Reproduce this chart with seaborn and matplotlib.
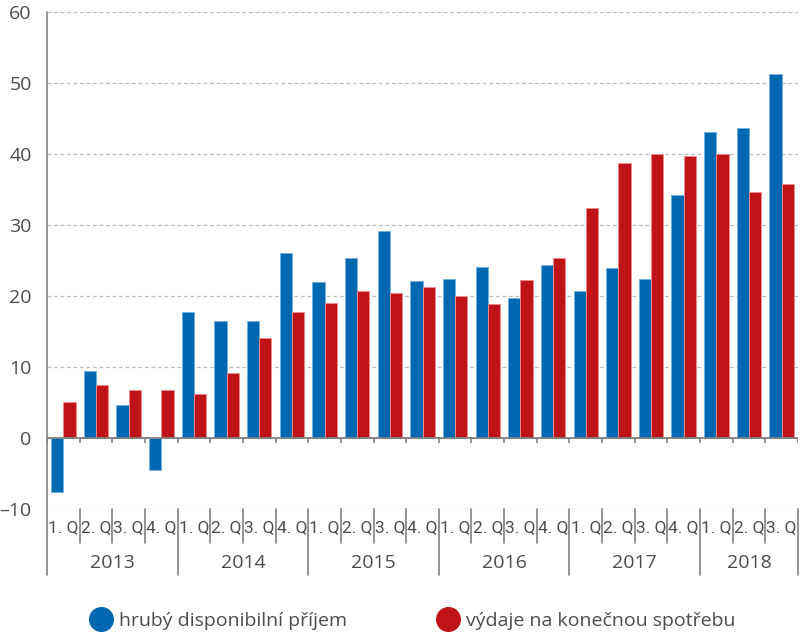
import matplotlib
matplotlib.use("Agg")
import matplotlib.pyplot as plt
from matplotlib.lines import Line2D
import seaborn as sns
import pandas as pd

# --- data ---
roky = ["2013", "2014", "2015", "2016", "2017", "2018"]
ctvrtleti = ["1. Q", "2. Q", "3. Q", "4. Q"] * 5 + ["1. Q", "2. Q", "3. Q"]
prijem = [-7.7, 9.4, 4.6, -4.6, 17.7, 16.4, 16.4, 26.0, 21.9, 25.3, 29.2, 22.1,
          22.4, 24.1, 19.7, 24.3, 20.7, 23.9, 22.4, 34.2, 43.1, 43.6, 51.3]
vydaje = [5.0, 7.4, 6.7, 6.7, 6.2, 9.1, 14.1, 17.7, 19.0, 20.7, 20.4, 21.2,
          20.0, 18.8, 22.3, 25.3, 32.4, 38.7, 40.0, 39.7, 40.0, 34.6, 35.8]
y_ticks = [-10, 0, 10, 20, 30, 40, 50, 60]
y_popisky = ["–10", "0", "10", "20", "30", "40", "50", "60"]
serie = ["hrubý disponibilní příjem", "výdaje na konečnou spotřebu"]
barvy = ["#0067b1", "#be1317"]
okraje = ["#6fb4e4", "#f08a8c"]

n = len(prijem)
df = pd.DataFrame({
    "obdobi": list(range(n)) * 2,
    "hodnota": prijem + vydaje,
    "serie": [serie[0]] * n + [serie[1]] * n,
})

sns.set_style("white")
plt.rcParams["font.family"] = ["Open Sans", "DejaVu Sans"]
seda = "#4d4d4d"
linka = "#808080"

fig = plt.figure(figsize=(8, 6.33), dpi=100)
ax = fig.add_axes([47 / 800, 1 - 508.7 / 633, 751 / 800, (508.7 - 12) / 633])

sns.barplot(data=df, x="obdobi", y="hodnota", hue="serie", hue_order=serie,
            palette=barvy, width=0.75, saturation=1, ax=ax, legend=False)

for cont, ok in zip(ax.containers, okraje):
    for b in cont:
        b.set_edgecolor(ok)
        b.set_linewidth(0.7)

ax.set_xlim(-0.5, n - 0.5)
ax.set_ylim(-10, 60)
ax.set_yticks(y_ticks)
ax.set_yticklabels(y_popisky)
ax.yaxis.grid(True, linestyle=(0, (3, 2.2)), color="#bdbdbd", linewidth=0.9)
ax.set_axisbelow(True)
for s in ax.spines.values():
    s.set_visible(False)
ax.tick_params(axis="y", length=0, pad=11, labelsize=14, labelcolor=seda)
ax.set_xticks([])
ax.set_xlabel("")
ax.set_ylabel("")

# nulova osa a male znacky
ax.axhline(0, color=linka, linewidth=1.3, zorder=3)
hranice = [i - 0.5 for i in range(n + 1)]
ax.vlines(hranice, -0.75, 0, color=linka, linewidth=1.2, zorder=3)

# leva osa prodlouzena pod graf
tr = ax.get_xaxis_transform()
ax.plot([-0.5, -0.5], [1, -0.1335], transform=tr, color=linka, lw=1.2, clip_on=False)

# popisky ctvrtleti a roku pod grafem
for i, q in enumerate(ctvrtleti):
    ax.text(i, -0.038, q, transform=tr, ha="center", va="center",
            fontsize=12.5, color=seda, family=["Roboto", "DejaVu Sans"])
for i in range(1, n):
    konec = -0.1335 if i % 4 == 0 else -0.069
    ax.plot([i - 0.5, i - 0.5], [0, konec], transform=tr, color=linka,
            lw=1.2, clip_on=False)
ax.plot([n - 0.5, n - 0.5], [0, -0.1335], transform=tr, color=linka,
        lw=1.2, clip_on=False)
for j, rok in enumerate(roky):
    zac = j * 4
    kon = min(zac + 3, n - 1)
    ax.text((zac + kon) / 2, -0.109, rok, transform=tr, ha="center",
            va="center", fontsize=14, color=seda)

# legenda
znacky = [Line2D([], [], marker="o", linestyle="", markersize=17,
                 markerfacecolor=c, markeredgecolor=c) for c in barvy]
fig.legend(znacky, serie, loc="center left", bbox_to_anchor=(80 / 800, 1 - 621 / 633),
           ncol=2, frameon=False, fontsize=14, labelcolor=seda,
           handletextpad=0.3, columnspacing=4.6, handlelength=1.2, borderpad=0)

fig.savefig("out.png", dpi=100)
